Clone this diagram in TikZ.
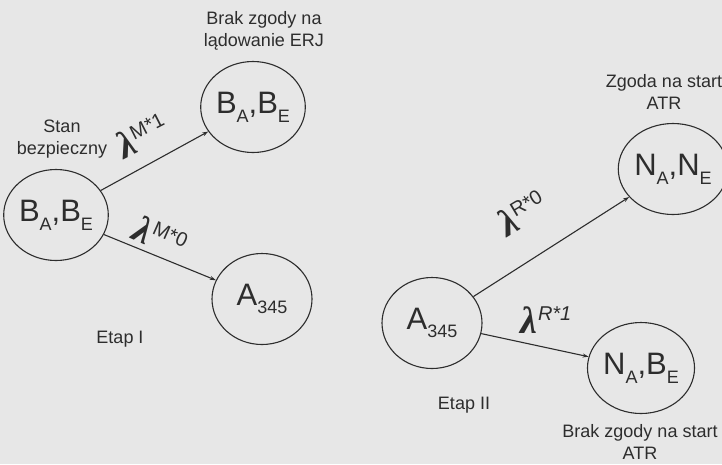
\documentclass[tikz,border=0pt]{standalone}
\usepackage{fontspec}
\setmainfont{Liberation Sans}
\newfontfamily\lamfont{Liberation Serif}
\usetikzlibrary{shapes.geometric,arrows.meta}
\definecolor{bg}{RGB}{231,231,231}
\definecolor{ink}{RGB}{45,45,45}
\newcommand{\lowsub}[1]{\raisebox{-0.28em}{\fontsize{18}{18}\selectfont #1}}
\newcommand{\lamlab}[1]{{\lamfont\bfseries\itshape\fontsize{38}{38}\selectfont λ}\hspace{0.5pt}\raisebox{13pt}{\fontsize{20}{20}\selectfont #1}}
\tikzset{
  state/.style={draw=ink, line width=1.1pt, ellipse, minimum width=100pt, minimum height=91pt, inner sep=0pt, text=ink, font=\fontsize{31}{31}\selectfont},
  lbl/.style={text=ink, align=center, inner sep=0pt, font=\fontsize{18}{22}\selectfont},
  lam/.style={text=ink, inner sep=0pt},
  conn/.style={draw=ink, line width=1.1pt, -{Stealth[length=6pt,width=4pt]}}
}
\begin{document}
\begin{tikzpicture}[x=1pt,y=-1pt]
\fill[bg] (0,0) rectangle (722,464);
\useasboundingbox (0,0) rectangle (722,464);
\node[state] (s0) at (56,215) {B\lowsub{A},B\lowsub{E}};
\node[state] (s1) at (253,107) {B\lowsub{A},B\lowsub{E}};
\node[state] (s2) at (262,299) {A\lowsub{345}};
\node[state] (s3) at (432,323) {A\lowsub{345}};
\node[state] (s4) at (673,169) {N\lowsub{A},N\lowsub{E}};
\node[state] (s5) at (641,368) {N\lowsub{A},B\lowsub{E}};
\draw[conn] (s0) -- (s1);
\draw[conn] (s0) -- (s2);
\draw[conn] (s3) -- (s4);
\draw[conn] (s3) -- (s5);
\node[lbl] (t1) at (264,31) {Brak zgody na\\lądowanie ERJ};
\node[lbl] (t2) at (62,139) {Stan\\bezpieczny};
\node[lbl] (t3) at (120,339) {Etap I};
\node[lbl] (t4) at (664,92) {Zgoda na start\\ATR};
\node[lbl] (t5) at (464,405) {Etap II};
\node[lbl] (t6) at (640,442) {Brak zgody na start\\ATR};
\node[lam, rotate=27] (l1) at (142,136) {\lamlab{M*1}};
\node[lam, rotate=-24] (l2) at (160,237) {\lamlab{M*0}};
\node[lam, rotate=31] (l3) at (522,213) {\lamlab{R*0}};
\node[lam] (l4) at (546,320) {\lamlab{\itshape R*1}};
\end{tikzpicture}
\end{document}
